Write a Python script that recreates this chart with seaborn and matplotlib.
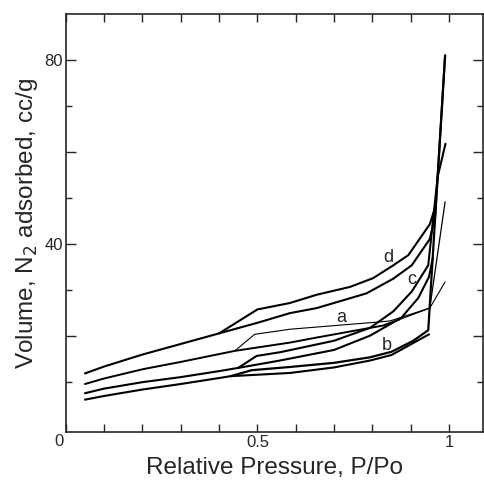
import numpy as np
import matplotlib
matplotlib.use("Agg")
import matplotlib.pyplot as plt
import seaborn as sns

# isotherm branches (x = P/Po, y = cc/g)
d_ads_x = [0.05, 0.10, 0.20, 0.30, 0.40, 0.50, 0.585, 0.655, 0.785, 0.855, 0.903, 0.950, 0.964, 0.990]
d_ads_y = [11.9, 13.4, 16.0, 18.3, 20.6, 22.9, 25.0, 26.1, 29.3, 32.5, 35.4, 41.1, 46.0, 81.0]
d_des_x = [0.40, 0.50, 0.585, 0.655, 0.742, 0.802, 0.855, 0.894, 0.950, 0.966]
d_des_y = [20.6, 25.8, 27.2, 29.0, 30.7, 32.6, 35.4, 37.6, 44.3, 48.5]

# curve a: thick at low pressure, thin past the crossing
a_low_x = [0.05, 0.10, 0.20, 0.30, 0.441, 0.585, 0.655, 0.828, 0.870]
a_low_y = [9.6, 10.8, 12.8, 14.4, 16.8, 18.6, 19.7, 22.3, 23.6]
a_ads_x = [0.870, 0.950, 0.990]
a_ads_y = [23.6, 26.1, 49.2]
a_des_x = [0.441, 0.493, 0.585, 0.820, 0.846, 0.950, 0.990]
a_des_y = [16.8, 20.4, 21.5, 23.1, 23.3, 26.1, 31.8]

c_ads_x = [0.05, 0.10, 0.20, 0.30, 0.40, 0.45, 0.559, 0.700, 0.794, 0.876, 0.920, 0.948, 0.958]
c_ads_y = [7.6, 8.6, 10.0, 11.1, 12.4, 13.1, 14.7, 17.0, 20.1, 24.0, 28.3, 32.9, 37.0]
c_des_x = [0.45, 0.498, 0.559, 0.700, 0.794, 0.855, 0.903, 0.946, 0.9705, 0.991]
c_des_y = [13.1, 15.7, 16.5, 19.0, 21.8, 25.4, 29.7, 35.4, 54.6, 61.8]

b_ads_x = [0.05, 0.10, 0.20, 0.30, 0.40, 0.43, 0.585, 0.700, 0.794, 0.850, 0.900, 0.948]
b_ads_y = [6.2, 7.0, 8.4, 9.6, 10.9, 11.3, 12.0, 13.2, 14.7, 15.9, 18.2, 20.4]
b_des_x = [0.43, 0.485, 0.585, 0.700, 0.794, 0.850, 0.907, 0.946, 0.990]
b_des_y = [11.3, 12.6, 13.3, 14.2, 15.4, 16.6, 19.0, 21.3, 81.0]

branches = [
    (d_ads_x, d_ads_y, 1.5), (d_des_x, d_des_y, 1.5),
    (a_low_x, a_low_y, 1.4), (a_ads_x, a_ads_y, 0.9), (a_des_x, a_des_y, 0.8),
    (c_ads_x, c_ads_y, 1.5), (c_des_x, c_des_y, 1.5),
    (b_ads_x, b_ads_y, 1.5), (b_des_x, b_des_y, 1.6),
]

curve_labels = ["d", "c", "a", "b"]
label_x = [0.841, 0.903, 0.72, 0.837]
label_y = [37.1, 32.2, 24.1, 17.9]

sns.set_style("ticks")
plt.rcParams["font.family"] = ["Liberation Sans", "DejaVu Sans"]

fig = plt.figure(figsize=(4.84, 4.82), dpi=100)
ax = fig.add_axes([0.136, 0.104, 0.862, 0.867])

for bx, by, lw in branches:
    sns.lineplot(x=bx, y=by, sort=False, color="black", linewidth=lw, ax=ax)

for lab, lx, ly in zip(curve_labels, label_x, label_y):
    ax.text(lx, ly, lab, fontsize=13, ha="center", va="center")

ax.set_xlim(0, 1.089)
ax.set_ylim(-0.8, 90)

ax.set_xticks(np.arange(0, 1.05, 0.1))
ax.set_xticklabels(["" if i not in (5, 10) else ("0.5" if i == 5 else "1") for i in range(11)])
ax.set_yticks([20, 40, 60, 80])
ax.set_yticklabels(["", "40", "", "80"])
ax.set_yticks([10, 30, 50, 70], minor=True)
ax.tick_params(axis="both", which="major", direction="in", top=True, right=True,
               labelsize=12, width=1.0, pad=2)
ax.tick_params(axis="x", which="major", length=6)
ax.tick_params(axis="y", which="major", length=7.5)
ax.tick_params(axis="y", which="minor", direction="in", right=True, length=4, width=1.0)
ax.text(-0.019, -2.9, "0", fontsize=12, ha="center", va="center", clip_on=False)

for s in ax.spines.values():
    s.set_linewidth(1.2)

ax.set_xlabel("Relative Pressure, P/Po", fontsize=17.5, labelpad=5)
ax.set_ylabel("Volume, N$_2$ adsorbed, cc/g", fontsize=17.5, labelpad=3)

fig.savefig("out.png", dpi=100)
